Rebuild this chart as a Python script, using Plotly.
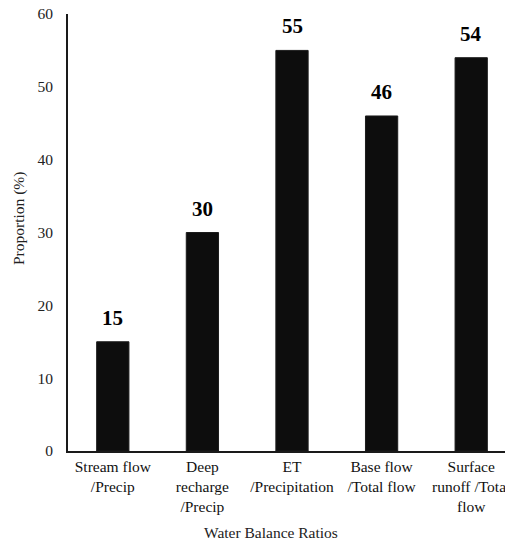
import plotly.graph_objects as go

categories = ["Stream flow<br>/Precip", "Deep<br>recharge<br>/Precip", "ET<br>/Precipitation",
              "Base flow<br>/Total flow", "Surface<br>runoff /Total<br>flow"]
values = [15, 30, 55, 46, 54]
value_labels = ["15", "30", "55", "46", "54"]
y_ticks = [0, 10, 20, 30, 40, 50, 60]

FONT = "Liberation Serif"

fig = go.Figure()
fig.add_trace(go.Bar(
    x=categories, y=values,
    marker=dict(color="#0d0d0d", line=dict(color="#1c1c1c", width=1)),
    width=0.36,
))

for c, v, t in zip(categories, values, value_labels):
    fig.add_annotation(x=c, y=v, text="<b>%s</b>" % t, showarrow=False,
                       yanchor="bottom", yshift=10,
                       font=dict(family=FONT, size=21, color="#000000"))

# axis titles as annotations (positioned like the reference)
fig.add_annotation(xref="paper", yref="paper", x=-0.1095, y=0.533,
                   text="Proportion (%)", textangle=-90, showarrow=False,
                   xanchor="center", yanchor="middle",
                   font=dict(family=FONT, size=15.5, color="#222222"))
fig.add_annotation(xref="paper", yref="paper", x=0.4525, y=-0.1876,
                   text="Water Balance Ratios", showarrow=False,
                   xanchor="center", yanchor="middle",
                   font=dict(family=FONT, size=15.5, color="#222222"))

fig.update_layout(
    width=513, height=541,
    margin=dict(l=60, r=5, t=14, b=90, autoexpand=False),
    plot_bgcolor="white", paper_bgcolor="white",
    showlegend=False,
    font=dict(family=FONT, size=15.5, color="#222222"),
    xaxis=dict(
        showline=True, linecolor="#1a1a1a", linewidth=2,
        ticks="", showgrid=False, automargin=False,
        tickfont=dict(family=FONT, size=15.5, color="#111111"),
    ),
    yaxis=dict(
        range=[0, 60], tickvals=y_ticks,
        showline=True, linecolor="#1a1a1a", linewidth=2,
        ticks="", showgrid=False, zeroline=False, automargin=False,
        ticklabeloverflow="allow",
        tickfont=dict(family=FONT, size=15.5, color="#222222"),
        ticklabelstandoff=10,
    ),
)

fig.write_html("out.html", post_script="document.body.style.marginTop='0px';")
